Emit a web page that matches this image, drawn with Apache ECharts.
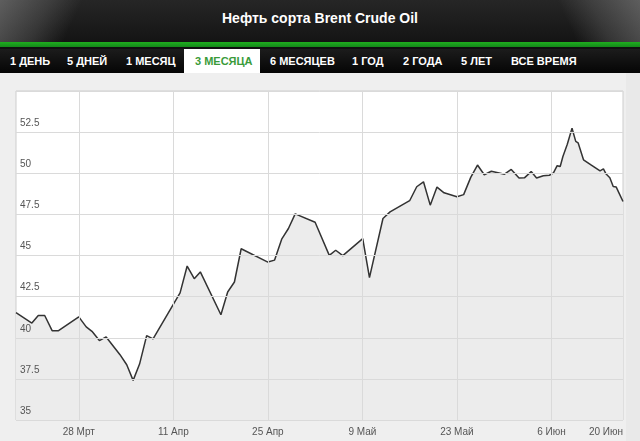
<!DOCTYPE html>
<html>
<head>
<meta charset="utf-8">
<script src="https://cdn.jsdelivr.net/npm/echarts@6/dist/echarts.min.js"></script>
<style>
  html, body { margin: 0; padding: 0; }
  body { width: 640px; height: 441px; overflow: hidden; background: #efefef; position: relative; font-family: "Liberation Sans", Arial, sans-serif; }
  #hdr { position: absolute; left: 0; top: 0; width: 640px; height: 42px;
    background:
      linear-gradient(115deg, rgba(140,140,140,0.55) 0px, rgba(110,110,110,0.35) 45px, rgba(0,0,0,0) 75px),
      linear-gradient(245deg, rgba(140,140,140,0.55) 0px, rgba(110,110,110,0.35) 45px, rgba(0,0,0,0) 75px),
      linear-gradient(#262626, #141414); }
  #title { position: absolute; left: 0; top: 0; width: 640px; height: 36px; line-height: 36px; text-align: center;
    color: #fff; font-weight: bold; font-size: 14px; }
  #green { position: absolute; left: 0; top: 42px; width: 640px; height: 5px; background: linear-gradient(#1fae1f, #14891a); }
  #dark { position: absolute; left: 0; top: 47px; width: 640px; height: 2px; background: #101010; }
  #tabs { position: absolute; left: 0; top: 49px; width: 640px; height: 24px; background: linear-gradient(#1c1c1c, #050505); }
  .tab { position: absolute; top: 0; height: 24px; line-height: 24px; color: #fff; font-weight: bold; font-size: 11px; white-space: nowrap; }
  .tab.active { color: #3a9b3a; }
  #activebg { position: absolute; top: 49px; height: 24px; background: #fff; }
  #rightedge { position: absolute; left: 626px; top: 73px; width: 14px; height: 368px; background: #e9e9e9; }
  #chart { position: absolute; left: 0; top: 73px; width: 640px; height: 368px; }
</style>
</head>
<body>
<div id="hdr"></div>
<div id="title">Нефть сорта Brent Crude Oil</div>
<div id="green"></div>
<div id="dark"></div>
<div id="tabs"></div>
<div id="activebg"></div>
<div id="rightedge"></div>
<div id="chart"></div>
<script>
// ---- data ----
const chartTitle = 'Нефть сорта Brent Crude Oil';
const tabLabels = ['1 ДЕНЬ', '5 ДНЕЙ', '1 МЕСЯЦ', '3 МЕСЯЦА', '6 МЕСЯЦЕВ', '1 ГОД', '2 ГОДА', '5 ЛЕТ', 'ВСЕ ВРЕМЯ'];
const activeTab = 3;
// x = days counted from 14 Mar (28 Mar = 14)
const days = [4.7, 7.05, 8.0, 8.95, 10.05, 11.0, 14, 15.1, 15.95, 17.05, 18.05, 20.1, 21.1, 22.05, 23, 24.05, 25,
  29, 30.05, 31.1, 32, 35.05, 36.05, 37.05, 38.05, 42, 43, 44.05, 45.05, 46.05, 49, 51.1, 52.05, 53.1,
  56.05, 57.05, 59.05, 60.1, 63, 64.05, 65.05, 66.05, 67.05, 68.1, 70, 71, 72.05, 73.05, 74.05, 75.1,
  77.05, 78.05, 79.2, 80, 81, 81.8, 82.8, 83.7, 84.3, 84.85, 85.3, 85.7, 86.35, 87.05, 87.6, 87.95,
  88.75, 89.8, 91.2, 91.7, 92.1, 92.65, 93.15, 93.6, 94.05, 94.6];
const prices = [41.52, 40.89, 41.35, 41.35, 40.43, 40.43, 41.27, 40.66, 40.39, 39.83, 40.05, 38.97, 38.36, 37.41, 38.40, 40.13, 39.93,
  42.73, 44.36, 43.59, 44.0, 41.40, 42.78, 43.39, 45.41, 44.60, 44.72, 45.99, 46.64, 47.53, 47.02, 45.01, 45.32, 44.99,
  46.03, 43.65, 47.25, 47.65, 48.33, 49.18, 49.48, 48.06, 49.16, 48.81, 48.57, 48.70, 49.75, 50.50, 49.91, 50.12,
  49.94, 50.23, 49.71, 49.72, 50.10, 49.71, 49.85, 49.88, 50.02, 50.46, 50.41, 51.02, 51.76, 52.74, 51.94, 51.85,
  50.82, 50.52, 50.14, 50.26, 49.95, 49.73, 49.19, 49.16, 48.76, 48.28];
const xTickDays = [14, 28, 42, 56, 70, 84];
const xTickLabels = ['28 Мрт', '11 Апр', '25 Апр', '9 Май', '23 Май', '6 Июн'];
const xEndLabel = '20 Июн';
const xMin = 4.7, xMax = 94.6;
const yMin = 35, yMax = 55, yStep = 2.5;

// ---- header / tabs ----
document.getElementById('title').textContent = chartTitle;
const tabX = [10, 67, 126, 195, 270, 352, 403, 461, 511];
const tabsEl = document.getElementById('tabs');
tabLabels.forEach((t, i) => {
  const d = document.createElement('div');
  d.className = 'tab' + (i === activeTab ? ' active' : '');
  d.style.left = tabX[i] + 'px';
  d.textContent = t;
  if (i === activeTab) {
    d.style.zIndex = 2;
    d.style.top = '49px';
    document.body.appendChild(d);
  } else {
    tabsEl.appendChild(d);
  }
});
const abg = document.getElementById('activebg');
abg.style.left = '184px';
abg.style.width = '76px';

// ---- chart ----
const chart = echarts.init(document.getElementById('chart'), null, { renderer: 'canvas' });
const lblFont = { fontFamily: 'Liberation Sans, Arial, sans-serif', fontSize: 10, color: '#555' };
const labelValues = xTickDays.concat([xMax]);
chart.setOption({
  animation: false,
  backgroundColor: 'transparent',
  grid: { left: 16, right: 17, top: 18, bottom: 21, show: true, backgroundColor: '#ffffff', borderColor: '#cdcdcd', borderWidth: 1 },
  xAxis: {
    type: 'value', min: xMin, max: xMax, z: 10,
    axisLine: { show: false },
    axisTick: { show: false, customValues: xTickDays },
    splitLine: { show: true, lineStyle: { color: '#dadada', width: 1 } },
    axisLabel: Object.assign({}, lblFont, {
      margin: 7, alignMaxLabel: 'right', customValues: labelValues,
      formatter: function (v) {
        if (Math.abs(v - xMax) < 1e-6) return xEndLabel;
        const i = xTickDays.findIndex(d => Math.abs(d - v) < 1e-6);
        return i >= 0 ? xTickLabels[i] : '';
      }
    })
  },
  yAxis: {
    type: 'value', min: yMin, max: yMax, interval: yStep, z: 10,
    axisLine: { show: false }, axisTick: { show: false },
    splitLine: { show: true, lineStyle: { color: '#dadada', width: 1 } },
    axisLabel: Object.assign({}, lblFont, {
      inside: true, margin: 4, showMaxLabel: false, verticalAlign: 'bottom', padding: [0, 0, 4, 0],
      formatter: function (v) { return String(v); }
    })
  },
  series: [{
    type: 'line',
    data: days.map((d, i) => [d, prices[i]]),
    showSymbol: false,
    lineStyle: { color: '#333333', width: 1.5 },
    areaStyle: { color: '#ececec', opacity: 1, origin: 'start' },
    z: 2
  }]
});
</script>
</body>
</html>
